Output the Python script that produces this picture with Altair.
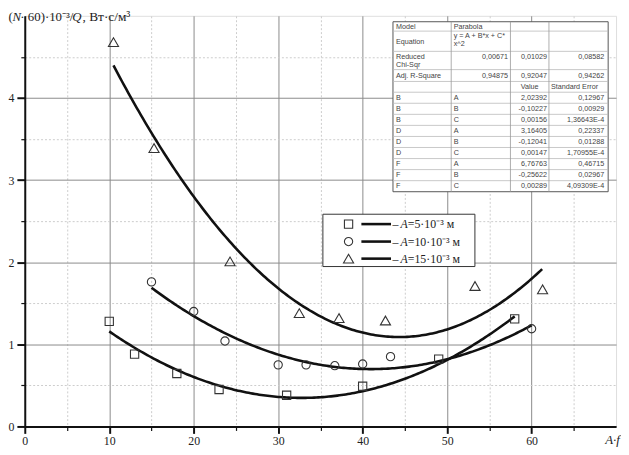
import altair as alt
import pandas as pd

# ---------------- data ----------------
sq_x = [10, 13, 18, 23, 31, 40, 49, 58]
sq_y = [1.28, 0.88, 0.645, 0.45, 0.38, 0.49, 0.82, 1.31]
ci_x = [15, 20, 23.7, 30, 33.3, 36.7, 40, 43.3, 60]
ci_y = [1.76, 1.40, 1.04, 0.75, 0.75, 0.74, 0.76, 0.85, 1.19]
tr_x = [10.5, 15.3, 24.3, 32.5, 37.2, 42.7, 53.3, 61.3]
tr_y = [4.68, 3.39, 2.01, 1.38, 1.32, 1.29, 1.71, 1.67]

legend_amp = ["5", "10", "15"]

# fit table (as printed)
model_row = ["Model", "Parabola"]
equation_lines = ["y = A + B*x + C*", "x^2"]
chi_sqr = ["0,00671", "0,01029", "0,08582"]
adj_r2 = ["0,94875", "0,92047", "0,94262"]
param_series = ["B", "B", "B", "D", "D", "D", "F", "F", "F"]
param_names = ["A", "B", "C", "A", "B", "C", "A", "B", "C"]
param_values = ["2,02392", "-0,10227", "0,00156", "3,16405", "-0,12041", "0,00147",
                "6,76763", "-0,25622", "0,00289"]
param_errors = ["0,12967", "0,00929", "1,36643E-4", "0,22337", "0,01288", "1,70955E-4",
                "0,46715", "0,02967", "4,09309E-4"]

coef = [float(v.replace(",", ".")) for v in param_values]

# ---------------- styling ----------------
SERIF = "Liberation Serif"
SANS = "Liberation Sans"
W, H = 599, 416
XS = alt.Scale(domain=[0, 70], nice=False, zero=False)
YS = alt.Scale(domain=[0, 5], nice=False, zero=False)

major_x = "datum.value % 10 === 0"
major_y = "datum.value % 1 === 0"

x_axis = alt.Axis(
    values=list(range(0, 70, 5)),
    labelExpr=f"{major_x} ? datum.label : ''",
    title=None, grid=True,
    gridColor={"condition": {"test": major_x, "value": "#8a8a8a"}, "value": "#cccccc"},
    gridDash={"condition": {"test": major_x, "value": []}, "value": [2, 2]},
    tickSize={"condition": {"test": major_x, "value": 7}, "value": 4},
    tickWidth={"condition": {"test": major_x, "value": 2}, "value": 1.2},
    tickColor="#111", domainColor="#111", domainWidth=2,
    labelFont=SERIF, labelFontSize=12, labelColor="#222", labelPadding=2,
    labelFlush=False,
)
y_axis = alt.Axis(
    values=[i * 0.5 for i in range(0, 10)],
    labelExpr=f"{major_y} ? format(datum.value, 'd') : ''",
    title=None, grid=True,
    gridColor={"condition": {"test": major_y, "value": "#8a8a8a"}, "value": "#cccccc"},
    gridDash={"condition": {"test": major_y, "value": []}, "value": [2, 2]},
    tickSize={"condition": {"test": major_y, "value": 8}, "value": 4},
    tickWidth={"condition": {"test": major_y, "value": 2}, "value": 1.2},
    tickColor="#111", domainColor="#111", domainWidth=2,
    labelFont=SERIF, labelFontSize=12, labelColor="#222", labelPadding=3,
    labelFlush=False,
)

layers = []

# ---------------- fitted parabolas ----------------
series_x = [sq_x, ci_x, tr_x]
for i, xs in enumerate(series_x):
    a, b, c = coef[3 * i], coef[3 * i + 1], coef[3 * i + 2]
    layers.append(
        alt.Chart(alt.sequence(min(xs), max(xs) + 0.001, 0.25, as_="xv"))
        .transform_calculate(yv=f"{a} + ({b})*datum.xv + ({c})*datum.xv*datum.xv")
        .mark_line(color="#111", strokeWidth=2.6, clip=True)
        .encode(x=alt.X("xv:Q", scale=XS, axis=x_axis),
                y=alt.Y("yv:Q", scale=YS, axis=y_axis))
    )

# ---------------- points ----------------
shapes = ["square", "circle", "triangle-up"]
sizes = [70, 70, 105]
series_y = [sq_y, ci_y, tr_y]
for xs, ys, shp, sz in zip(series_x, series_y, shapes, sizes):
    df = pd.DataFrame({"x": xs, "y": ys})
    layers.append(
        alt.Chart(df).mark_point(shape=shp, size=sz, filled=False, stroke="#333",
                                 strokeWidth=1.1, opacity=1)
        .encode(x=alt.X("x:Q", scale=XS, axis=x_axis), y=alt.Y("y:Q", scale=YS, axis=y_axis))
    )

# ---------------- fit table (pixel layout) ----------------
TL, TR, TT = 373, 591, 6
c1, c2, c3 = 432, 492, 531
hlines = [15.5, 36, 54.5, 66.5, 77.4]
pitch = 11.2
row0 = 77.4 + pitch / 2
data_lines = [77.4 + pitch * (k + 1) for k in range(8)]
TB = 77.4 + pitch * 9

layers.append(
    alt.Chart(pd.DataFrame({"a": [0]})).mark_rect(fill="white", stroke="#555", strokeWidth=1)
    .encode(x=alt.value(TL), x2=alt.value(TR), y=alt.value(TT), y2=alt.value(TB))
)
rl = []
for yv in hlines + data_lines:
    rl.append({"x": TL, "x2": TR, "y": yv, "y2": yv, "c": "#bbbbbb"})
for xv in [c1, c2, c3]:
    rl.append({"x": xv, "x2": xv, "y": TT, "y2": TB, "c": "#999999"})
layers.append(
    alt.Chart(pd.DataFrame(rl)).mark_rule(strokeWidth=0.8)
    .encode(x=alt.X("x:Q", scale=None, axis=None), x2="x2:Q",
            y=alt.Y("y:Q", scale=None, axis=None), y2="y2:Q",
            color=alt.Color("c:N", scale=None, legend=None))
)

left_cells = [
    (model_row[0], 376, 11), (model_row[1], 434.5, 11),
    ("Equation", 376, 26.5), (equation_lines[0], 434.5, 20.5), (equation_lines[1], 434.5, 29),
    ("Reduced", 376, 42), ("Chi-Sqr", 376, 49.5), ("Adj. R-Square", 376, 61),
    ("Standard Error", 533, 72.3),
]
right_cells = [
    (chi_sqr[0], 489.5, 42), (chi_sqr[1], 529, 42), (chi_sqr[2], 587, 42),
    (adj_r2[0], 489.5, 61), (adj_r2[1], 529, 61), (adj_r2[2], 587, 61),
]
center_cells = [("Value", 511.5, 72.3)]
for k in range(9):
    yy = row0 + pitch * k
    left_cells.append((param_series[k], 376, yy))
    left_cells.append((param_names[k], 434.5, yy))
    right_cells.append((param_values[k], 529, yy))
    right_cells.append((param_errors[k], 587, yy))

for cells, al in [(left_cells, "left"), (right_cells, "right"), (center_cells, "center")]:
    df = pd.DataFrame(cells, columns=["t", "px", "py"])
    layers.append(
        alt.Chart(df).mark_text(font=SANS, fontSize=7.3, color="#444", align=al, baseline="middle")
        .encode(x=alt.X("px:Q", scale=None, axis=None), y=alt.Y("py:Q", scale=None, axis=None),
                text="t:N")
    )

# ---------------- legend (pixel layout) ----------------
LX0, LX1, LY0, LY1 = 302, 456, 201, 254
leg_rows = [211, 228.7, 246]
layers.append(
    alt.Chart(pd.DataFrame({"a": [0]})).mark_rect(fill="white", stroke="#333", strokeWidth=1)
    .encode(x=alt.value(LX0), x2=alt.value(LX1), y=alt.value(LY0), y2=alt.value(LY1))
)
for k, (shp, sz) in enumerate(zip(shapes, sizes)):
    yy = leg_rows[k]
    layers.append(
        alt.Chart(pd.DataFrame({"a": [0]})).mark_point(shape=shp, size=sz, filled=False,
                                                       stroke="#333", strokeWidth=1.1, opacity=1)
        .encode(x=alt.value(328), y=alt.value(yy))
    )
    layers.append(
        alt.Chart(pd.DataFrame({"a": [0]})).mark_rule(color="#111", strokeWidth=2.6)
        .encode(x=alt.value(341), x2=alt.value(371), y=alt.value(yy))
    )
    layers.append(
        alt.Chart(pd.DataFrame({"t": ["–"]})).mark_text(font=SERIF, fontSize=12, color="#222",
                                                       align="left", baseline="middle")
        .encode(x=alt.value(372.5), y=alt.value(yy), text="t:N")
    )
    layers.append(
        alt.Chart(pd.DataFrame({"t": ["A"]})).mark_text(font=SERIF, fontSize=12, fontStyle="italic",
                                                       color="#222", align="left", baseline="middle")
        .encode(x=alt.value(380.5), y=alt.value(yy), text="t:N")
    )
    layers.append(
        alt.Chart(pd.DataFrame({"t": [f"={legend_amp[k]}·10⁻³ м"]})).mark_text(
            font=SERIF, fontSize=12, color="#222", align="left", baseline="middle")
        .encode(x=alt.value(388), y=alt.value(yy), text="t:N")
    )

# ---------------- axis titles ----------------
title_parts = [("(", -16.5, "normal", 13), ("N", -12.5, "italic", 13),
               ("· 60)·10⁻³/", -4.5, "normal", 13),
               ("Q", 48, "italic", 13), (", Вт·с/м³", 58.5, "normal", 13.5)]
for t, xx, st, fs in title_parts:
    layers.append(
        alt.Chart(pd.DataFrame({"t": [t]})).mark_text(font=SERIF, fontSize=fs, fontStyle=st,
                                                     color="#222", align="left", baseline="alphabetic")
        .encode(x=alt.value(xx), y=alt.value(5), text="t:N")
    )
layers.append(
    alt.Chart(pd.DataFrame({"t": ["A·f"]})).mark_text(font=SERIF, fontSize=13, fontStyle="italic",
                                                     color="#222", align="left", baseline="alphabetic")
    .encode(x=alt.value(588), y=alt.value(434), text="t:N")
)

chart = (
    alt.layer(*layers)
    .properties(width=W, height=H,
                padding={"left": 17, "top": 5, "right": 5, "bottom": 26},
                autosize=alt.AutoSizeParams(type="none"))
    .configure_view(stroke="#111", strokeWidth=1.5)
    .configure(background="white")
)
chart.save("out.html", embed_options={"renderer": "svg", "actions": False})
